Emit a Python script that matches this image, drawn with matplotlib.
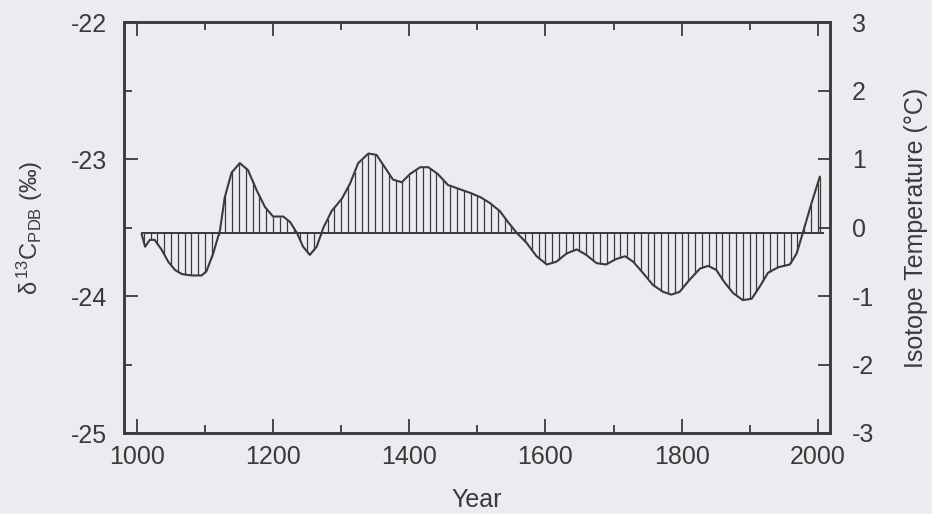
import numpy as np
import matplotlib
matplotlib.use("Agg")
import matplotlib.pyplot as plt

plt.rcParams['font.family'] = ['Liberation Sans', 'DejaVu Sans']
plt.rcParams['mathtext.fontset'] = 'custom'
plt.rcParams['mathtext.rm'] = 'Liberation Sans'
plt.rcParams['mathtext.it'] = 'Liberation Sans:italic'
plt.rcParams['axes.unicode_minus'] = False

# ---- data ----
years = [1007, 1012, 1019, 1026, 1036, 1046, 1056, 1066, 1080, 1095,
         1102, 1112, 1122, 1129, 1139, 1151, 1163, 1176, 1188, 1200,
         1215, 1225, 1235, 1244, 1254, 1264, 1274, 1286, 1301, 1313,
         1325, 1340, 1352, 1364, 1376, 1389, 1401, 1416, 1428, 1442,
         1457, 1474, 1491, 1505, 1518, 1533, 1545, 1558, 1572, 1587,
         1602, 1616, 1631, 1646, 1660, 1675, 1689, 1704, 1717, 1729,
         1743, 1758, 1773, 1785, 1797, 1812, 1827, 1839, 1851, 1863,
         1876, 1890, 1903, 1915, 1927, 1942, 1959, 1969, 1978, 1991,
         2003]
d13c = [-23.55, -23.64, -23.59, -23.59, -23.66, -23.75, -23.81, -23.84, -23.85, -23.85,
        -23.82, -23.69, -23.52, -23.28, -23.10, -23.03, -23.08, -23.23, -23.35, -23.42,
        -23.42, -23.46, -23.54, -23.64, -23.70, -23.64, -23.50, -23.38, -23.29, -23.18,
        -23.03, -22.96, -22.97, -23.06, -23.15, -23.17, -23.11, -23.06, -23.06, -23.11,
        -23.19, -23.22, -23.25, -23.28, -23.32, -23.38, -23.46, -23.54, -23.61, -23.71,
        -23.77, -23.75, -23.69, -23.66, -23.70, -23.76, -23.77, -23.73, -23.71, -23.75,
        -23.83, -23.92, -23.97, -23.99, -23.97, -23.88, -23.80, -23.78, -23.81, -23.90,
        -23.98, -24.03, -24.02, -23.93, -23.83, -23.79, -23.77, -23.69, -23.54, -23.32,
        -23.13]
baseline_value = -23.54
baseline_span = [1007, 2008]
hatch_step = 10

x_ticks = [1000, 1200, 1400, 1600, 1800, 2000]
x_minor = [1100, 1300, 1500, 1700, 1900]
left_ticks = [-22, -23, -24, -25]
left_minor = [-22.5, -23.5, -24.5]
right_ticks = [3, 2, 1, 0, -1, -2, -3]

bg = '#ececf0'
ink = '#3a3a3a'

fig = plt.figure(figsize=(9.32, 5.14), dpi=100, facecolor=bg)
ax = fig.add_axes([124/932, 1-433/514, (830-124)/932, (433-22)/514])
ax.set_facecolor(bg)

yrs = np.array(years, dtype=float)
vals = np.array(d13c, dtype=float)

# hatching: vertical lines every 10 years between baseline and curve
hx = np.arange(np.ceil(yrs[0]/hatch_step)*hatch_step, yrs[-1], hatch_step)
hx = np.append(hx, yrs[-1])
hy = np.interp(hx, yrs, vals)
ax.vlines(hx, baseline_value, hy, colors=ink, linewidth=0.9)

ax.plot(baseline_span, [baseline_value, baseline_value], color=ink, linewidth=1.4)
ax.plot(yrs, vals, color=ink, linewidth=1.5, solid_joinstyle='round')

ax.set_xlim(981, 2018)
ax.set_ylim(-25, -22)
ax.set_xticks(x_ticks)
ax.set_xticks(x_minor, minor=True)
ax.set_yticks(left_ticks)
ax.set_yticks(left_minor, minor=True)
ax.set_yticklabels([f"{v:d}" for v in left_ticks])

ax.tick_params(axis='both', which='major', direction='in', length=10, width=1.3,
               color=ink, labelcolor=ink, labelsize=18)
ax.tick_params(axis='both', which='minor', direction='in', length=5.5, width=1.3,
               color=ink)
ax.tick_params(axis='x', which='both', top=True)
ax.tick_params(axis='x', which='major', pad=9)
ax.tick_params(axis='y', which='major', pad=12)
for s in ax.spines.values():
    s.set_color(ink)
    s.set_linewidth(1.8)

ax.set_xlabel('Year', fontsize=18, color=ink, labelpad=13)
ax.set_ylabel(r'$\mathrm{δ\,^{13}C_{PDB}}$ (‰)', fontsize=17, color=ink, labelpad=19)

ax2 = ax.twinx()
ax2.set_ylim(-3, 3)
ax2.set_yticks(right_ticks)
ax2.set_yticklabels([f"{v:d}" for v in right_ticks])
ax2.tick_params(axis='y', direction='in', length=9, width=1.3, color=ink,
                labelcolor=ink, labelsize=18, pad=16)
for s in ax2.spines.values():
    s.set_color(ink)
    s.set_linewidth(1.8)
ax2.set_ylabel('Isotope Temperature (°C)', fontsize=18, color=ink, labelpad=21)

fig.savefig('out.png', dpi=100, facecolor=bg)
